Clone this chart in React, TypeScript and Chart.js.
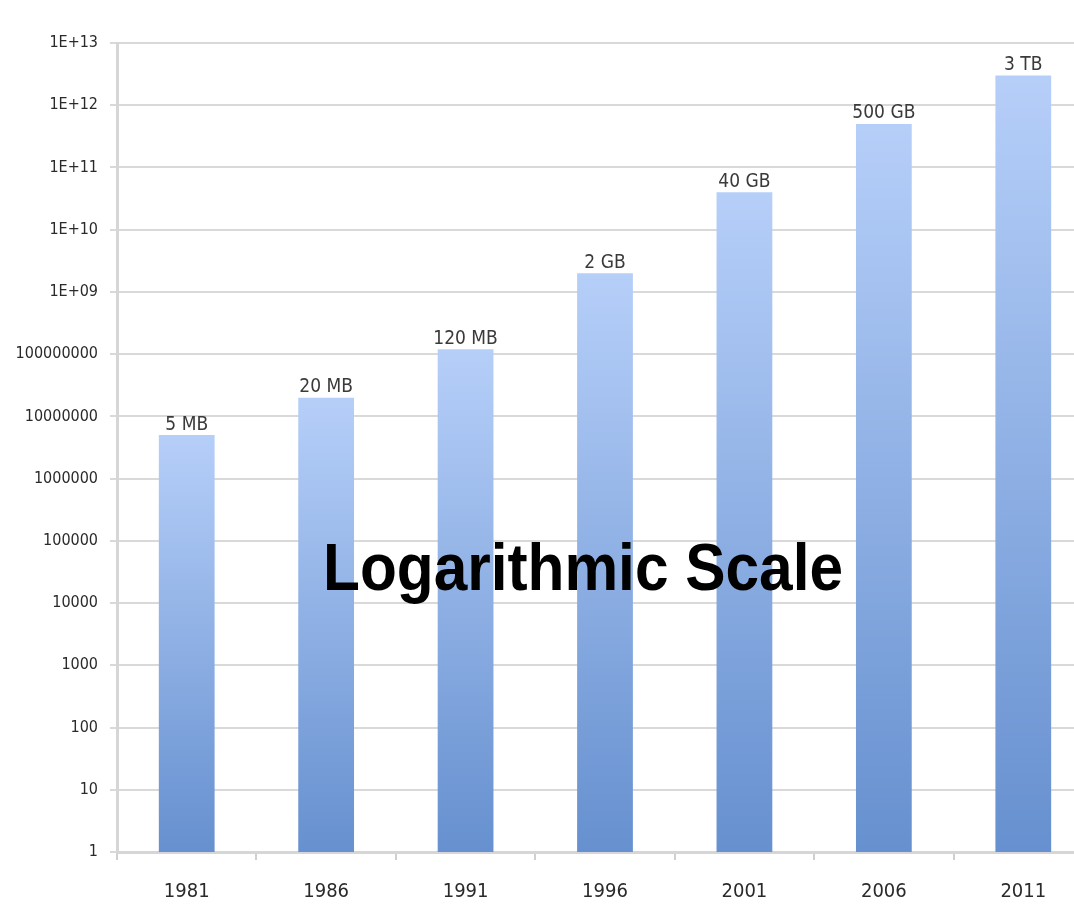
import React, { useEffect, useRef } from "react";
import { Chart, registerables } from "chart.js";

Chart.register(...registerables);

const years = ["1981", "1986", "1991", "1996", "2001", "2006", "2011"];
const capacityBytes = [5e6, 2e7, 1.2e8, 2e9, 4e10, 5e11, 3e12];
const capacityLabels = ["5 MB", "20 MB", "120 MB", "2 GB", "40 GB", "500 GB", "3 TB"];
const tickValues = [1, 10, 100, 1e3, 1e4, 1e5, 1e6, 1e7, 1e8, 1e9, 1e10, 1e11, 1e12, 1e13];
const tickLabels = [
  "1", "10", "100", "1000", "10000", "100000", "1000000", "10000000", "100000000",
  "1E+09", "1E+10", "1E+11", "1E+12", "1E+13",
];
const overlayText = "Logarithmic Scale";

const FONT = "'DejaVu Sans Condensed', 'Liberation Sans Narrow', 'Liberation Sans', sans-serif";

export default function App() {
  const ref = useRef<HTMLCanvasElement | null>(null);

  useEffect(() => {
    document.body.style.margin = "0";
    document.body.style.overflow = "hidden";
    const canvas = ref.current!;

    const labelPlugin = {
      id: "barLabels",
      afterDatasetsDraw(chart: any) {
        const ctx = chart.ctx;
        const meta = chart.getDatasetMeta(0);
        ctx.save();
        ctx.fillStyle = "#3a3a3a";
        ctx.font = `19px ${FONT}`;
        ctx.textAlign = "center";
        ctx.textBaseline = "bottom";
        meta.data.forEach((bar: any, i: number) => {
          ctx.fillText(capacityLabels[i], bar.x, bar.y - 1);
        });
        ctx.fillStyle = "#000000";
        ctx.font = `bold 66px 'Liberation Sans', Arial, sans-serif`;
        const w = ctx.measureText(overlayText).width;
        const target = 520;
        ctx.save();
        ctx.translate(583, 572);
        ctx.scale(target / w, 1);
        ctx.textAlign = "center";
        ctx.textBaseline = "middle";
        ctx.fillText(overlayText, 0, 0);
        ctx.restore();
        ctx.restore();
      },
    };

    const chart = new Chart(canvas, {
      type: "bar",
      data: {
        labels: years,
        datasets: [
          {
            data: capacityBytes,
            backgroundColor: (c: any) => {
              const ch = c.chart;
              const area = ch.chartArea;
              if (!area || c.dataIndex === undefined) return "#8fb0e6";
              const y = ch.scales.y;
              const top = y.getPixelForValue(capacityBytes[c.dataIndex]);
              const g = ch.ctx.createLinearGradient(0, top, 0, area.bottom);
              g.addColorStop(0, "#b6cff9");
              g.addColorStop(1, "#6690cf");
              return g;
            },
            borderWidth: 0,
            barPercentage: 0.4,
            categoryPercentage: 1,
          },
        ],
      },
      options: {
        animation: false,
        responsive: false,
        maintainAspectRatio: false,
        layout: { padding: { top: 43, right: 0, bottom: 0, left: 0 } },
        plugins: {
          legend: { display: false },
          tooltip: { enabled: false },
        },
        scales: {
          x: {
            grid: {
              display: true,
              drawOnChartArea: false,
              offset: true,
              tickLength: 8,
              color: "#cfcfcf",
              lineWidth: 2,
            },
            border: { color: "#d6d6d6", width: 3 },
            ticks: {
              color: "#2a2a2a",
              font: { family: FONT, size: 20 },
              padding: 20,
              maxRotation: 0,
            },
            afterFit: (s: any) => {
              s.height = 55;
            },
          },
          y: {
            type: "logarithmic",
            min: 1,
            max: 1e13,
            grid: {
              color: "#d9d9d9",
              lineWidth: 2,
              tickLength: 7,
            },
            border: { color: "#d6d6d6", width: 3 },
            afterBuildTicks: (s: any) => {
              s.ticks = tickValues.map((v) => ({ value: v }));
            },
            ticks: {
              color: "#2a2a2a",
              font: { family: FONT, size: 16 },
              padding: 12,
              autoSkip: false,
              callback: (v: any) => {
                const i = tickValues.indexOf(Number(v));
                return i >= 0 ? tickLabels[i] : "";
              },
            },
            afterFit: (s: any) => {
              s.width = 117;
            },
          },
        },
      },
      plugins: [labelPlugin],
    });
    return () => chart.destroy();
  }, []);

  return (
    <div style={{ position: "fixed", left: 0, top: 0, width: 1074, height: 907, overflow: "hidden", background: "#fff" }}>
      <canvas ref={ref} width={1093} height={907} style={{ width: 1093, height: 907, display: "block" }} />
    </div>
  );
}
